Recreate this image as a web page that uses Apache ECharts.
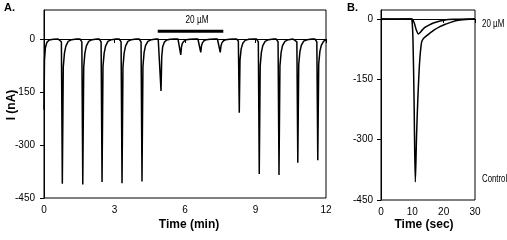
<!DOCTYPE html>
<html>
<head>
<meta charset="utf-8">
<script src="https://cdn.jsdelivr.net/npm/echarts@6/dist/echarts.min.js"></script>
<style>html,body{margin:0;padding:0;background:#fff}#c{width:507px;height:240px}</style>
</head>
<body>
<div id="c"></div>
<script>
// Panel A: current trace (time in min, current in nA)
const traceA = [
  [0,-200],[0.02,-60],[0.06,-25],[0.12,-10],[0.22,-3],[0.4,-0.5],[0.6,0],
  [0.66,0],[0.74,-8],[0.78,-410],[0.82,-80],[0.87,-40],[0.93,-20],[1.03,-7],[1.18,-2],[1.38,0],
  [1.53,0],[1.61,-8],[1.65,-412],[1.69,-80],[1.74,-40],[1.80,-20],[1.90,-7],[2.05,-2],[2.25,0],
  [2.35,0],[2.43,-8],[2.47,-405],[2.51,-78],[2.56,-40],[2.62,-20],[2.72,-7],[2.87,-2],[3.07,0],
  [3.20,0],[3.28,-8],[3.32,-408],[3.36,-80],[3.41,-40],[3.47,-20],[3.57,-7],[3.72,-2],[3.92,0],
  [4.05,0],[4.13,-8],[4.17,-403],[4.21,-78],[4.26,-38],[4.32,-19],[4.42,-7],[4.57,-2],[4.77,0],
  [4.86,0],[4.94,-5],[4.98,-147],[5.01,-50],[5.05,-22],[5.12,-9],[5.22,-3],[5.37,-1],[5.57,0],
  [5.70,0],[5.78,-3],[5.82,-45],[5.85,-22],[5.89,-12],[5.96,-6],[6.06,-2],[6.21,-0.5],[6.41,0],
  [6.55,0],[6.63,-3],[6.67,-38],[6.70,-20],[6.74,-11],[6.81,-5],[6.91,-2],[7.06,-0.5],[7.26,0],
  [7.38,0],[7.46,-3],[7.50,-38],[7.53,-20],[7.57,-11],[7.64,-5],[7.74,-2],[7.89,-0.5],[8.09,0],
  [8.19,0],[8.27,-6],[8.31,-209],[8.34,-60],[8.39,-28],[8.46,-12],[8.56,-4],[8.71,-1],[8.91,0],
  [9.04,0],[9.12,-8],[9.16,-382],[9.20,-76],[9.25,-38],[9.31,-19],[9.41,-7],[9.56,-2],[9.76,0],
  [9.88,0],[9.96,-8],[10.0,-385],[10.04,-76],[10.09,-38],[10.15,-19],[10.25,-7],[10.40,-2],[10.60,0],
  [10.68,0],[10.76,-8],[10.80,-350],[10.84,-72],[10.89,-36],[10.95,-18],[11.05,-6],[11.20,-2],[11.40,0],
  [11.53,0],[11.61,-8],[11.65,-343],[11.69,-70],[11.74,-35],[11.80,-18],[11.90,-6],[12.0,-3]
];
// drug application bar (min)
const drugBar = [[4.84, 22], [7.63, 22]];
const drugLabel = '20 µM';

// Panel B: single responses (time in sec)
const controlB = [
  [0,0],[5,-0.5],[9.6,0],[9.9,-4],[10.2,-50],[10.55,-200],[10.95,-405],[11.35,-290],[11.75,-200],
  [12.3,-110],[12.9,-60],[13.4,-50],[14.5,-42],[15.6,-35],[17,-27],[18.8,-19],[20.5,-13],[22,-9],
  [23.5,-5],[25.2,-2.5],[27,-1],[30,0]
];
const drugB = [
  [0,0],[9.8,0],[10.2,-2],[10.7,-12],[11.3,-28],[11.9,-37],[12.4,-34],[13.2,-27],[14,-21],
  [15.3,-15],[16.7,-10],[18.3,-6],[19.9,-3.5],[21.5,-1.5],[23,-0.5],[30,0]
];

const yTicks = [-450, -300, -150, 0];
const xTicksA = [0, 3, 6, 9, 12];
const xTicksB = [0, 10, 20, 30];

const NF = "'Liberation Sans',Arial,sans-serif";
const BF = "'Liberation Sans',Arial,sans-serif";

function xAx(idx, min, max, ticks) {
  return {
    type: 'value', gridIndex: idx, min: min, max: max,
    axisLine: {show: true, lineStyle: {color: '#000', width: 1}},
    axisTick: {show: true, length: 4, customValues: ticks, lineStyle: {color: '#000'}},
    axisLabel: {customValues: ticks, margin: 7, fontFamily: NF, fontSize: 10, color: '#000'},
    splitLine: {show: false}
  };
}
function yAx(idx, max, margin) {
  return {
    type: 'value', gridIndex: idx, min: -450, max: max,
    axisLine: {show: true, onZero: false, lineStyle: {color: '#000', width: 1}},
    axisTick: {show: true, length: 4, customValues: yTicks, lineStyle: {color: '#000'}},
    axisLabel: {customValues: yTicks, margin: margin, fontFamily: NF, fontSize: 10, color: '#000'},
    splitLine: {show: false}
  };
}

const chart = echarts.init(document.getElementById('c'), null, {renderer: 'canvas'});
chart.setOption({
  animation: false,
  backgroundColor: '#fff',
  grid: [
    {left: 44, top: 10, width: 282, height: 188, show: true, borderColor: '#000', borderWidth: 1, backgroundColor: 'transparent'},
    {left: 381, top: 10, width: 94, height: 190, show: true, borderColor: '#000', borderWidth: 1, backgroundColor: 'transparent'}
  ],
  xAxis: [xAx(0, 0, 12, xTicksA), xAx(1, 0, 30, xTicksB)],
  yAxis: [yAx(0, 82, 9), yAx(1, 22.4, 8)],
  series: [
    {type: 'line', xAxisIndex: 0, yAxisIndex: 0, data: traceA, showSymbol: false, symbol: 'none',
     lineStyle: {color: '#000', width: 1.5}, clip: true},
    {type: 'line', xAxisIndex: 0, yAxisIndex: 0, data: drugBar, symbol: 'none',
     lineStyle: {color: '#000', width: 3}},
    {type: 'line', xAxisIndex: 1, yAxisIndex: 1, data: controlB, symbol: 'none', smooth: 0.3,
     lineStyle: {color: '#000', width: 1.5}},
    {type: 'line', xAxisIndex: 1, yAxisIndex: 1, data: drugB, symbol: 'none', smooth: 0.3,
     lineStyle: {color: '#000', width: 1.5}}
  ],
  graphic: [
    {type: 'text', left: 4, top: 2, style: {text: 'A.', font: "bold 11px " + BF, fill: '#000'}},
    {type: 'text', left: 347, top: 2, style: {text: 'B.', font: "bold 11px " + BF, fill: '#000'}},
    {type: 'text', x: 197, y: 20, scaleX: 0.82, style: {text: drugLabel, font: "10px " + NF, fill: '#000', align: 'center', verticalAlign: 'middle'}},
    {type: 'text', x: 482, y: 24, scaleX: 0.8, style: {text: drugLabel, font: "10px " + NF, fill: '#000', align: 'left', verticalAlign: 'middle'}},
    {type: 'text', x: 482, y: 179, scaleX: 0.78, style: {text: 'Control', font: "10px " + NF, fill: '#000', align: 'left', verticalAlign: 'middle'}},
    {type: 'text', x: 189, y: 225, style: {text: 'Time (min)', font: "bold 12px " + BF, fill: '#000', align: 'center', verticalAlign: 'middle'}},
    {type: 'text', x: 424, y: 225, style: {text: 'Time (sec)', font: "bold 12px " + BF, fill: '#000', align: 'center', verticalAlign: 'middle'}},
    {type: 'text', x: 12, y: 105, rotation: Math.PI / 2, style: {text: 'I (nA)', font: "bold 12px " + BF, fill: '#000', align: 'center', verticalAlign: 'middle'}}
  ]
});
</script>
</body>
</html>
